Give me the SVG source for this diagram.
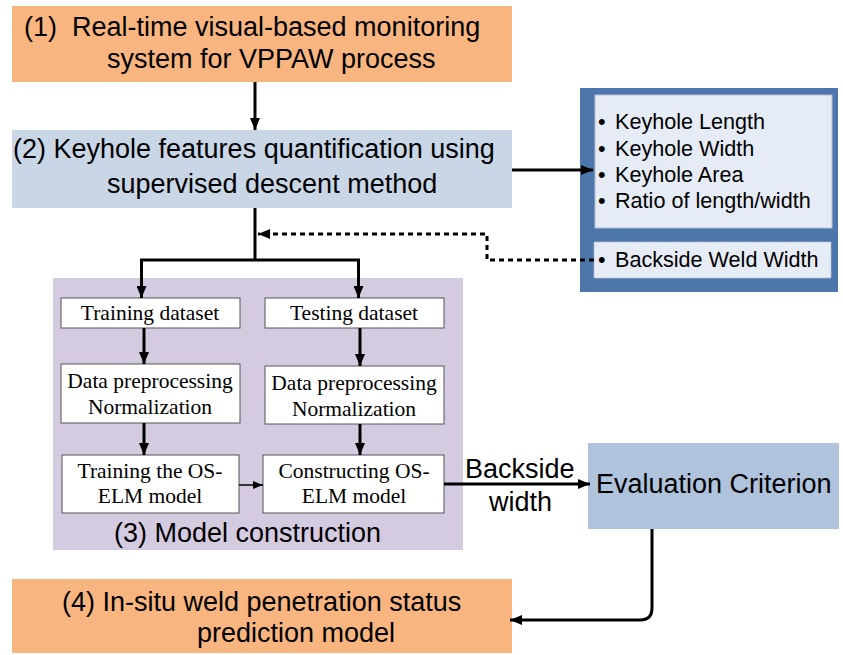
<svg xmlns="http://www.w3.org/2000/svg" width="843" height="655" viewBox="0 0 843 655">
<defs>
<style>
.sans{font-family:"Liberation Sans",Arial,sans-serif;fill:#000}
.big{font-size:27px}
.mid{font-size:21.6px}
.serif{font-family:"Liberation Serif","Times New Roman",serif;font-size:21.5px;fill:#000;text-anchor:middle}
.wbox{fill:#fff;stroke:#555;stroke-width:1}
.line{fill:none;stroke:#000;stroke-width:3}
.thin{fill:none;stroke:#000;stroke-width:1.5}
.dash{fill:none;stroke:#000;stroke-width:3;stroke-dasharray:5 4}
</style>
<marker id="ah" viewBox="0 0 12 10" refX="12" refY="5" markerWidth="12" markerHeight="10" markerUnits="userSpaceOnUse" orient="auto">
<path d="M0,0 L12,5 L0,10 z" fill="#000"/>
</marker>
<marker id="ahs" viewBox="0 0 10 8" refX="10" refY="4" markerWidth="10" markerHeight="8" markerUnits="userSpaceOnUse" orient="auto">
<path d="M0,0 L10,4 L0,8 z" fill="#000"/>
</marker>
</defs>
<rect width="843" height="655" fill="#fff"/>

<g id="panel-model">
<rect x="53" y="278" width="410" height="272" fill="#D5CBE0"/>
<text class="sans big" x="114" y="542">(3) Model construction</text>
</g>

<g id="box1">
<rect x="12" y="6" width="500" height="76" fill="#F8B57F"/>
<text class="sans big" x="24" y="36" xml:space="preserve">(1)  Real-time visual-based monitoring</text>
<text class="sans big" x="107" y="68">system for VPPAW process</text>
</g>

<g id="box2">
<rect x="12" y="130" width="500" height="78" fill="#C9D6E6"/>
<text class="sans big" x="13" y="158">(2) Keyhole features quantification using</text>
<text class="sans big" x="107" y="193">supervised descent method</text>
</g>

<g id="features">
<rect x="580" y="88" width="258" height="204" fill="#4C76AC"/>
<rect x="595" y="95" width="237" height="133" fill="#E6ECF6" stroke="#B8C0CC" stroke-width="1"/>
<text class="sans mid" y="129"><tspan x="598">•</tspan><tspan x="615">Keyhole Length</tspan></text>
<text class="sans mid" y="156"><tspan x="598">•</tspan><tspan x="615">Keyhole Width</tspan></text>
<text class="sans mid" y="182"><tspan x="598">•</tspan><tspan x="615">Keyhole Area</tspan></text>
<text class="sans mid" y="208"><tspan x="598">•</tspan><tspan x="615">Ratio of length/width</tspan></text>
<rect x="594" y="242" width="237" height="36" fill="#E6ECF6" stroke="#B8C0CC" stroke-width="1" stroke-dasharray="2 1"/>
<text class="sans mid" y="267"><tspan x="598">•</tspan><tspan x="615">Backside Weld Width</tspan></text>
</g>

<g id="train-data">
<rect class="wbox" x="61" y="298" width="179" height="30"/>
<text class="serif" x="150" y="320">Training dataset</text>
</g>
<g id="test-data">
<rect class="wbox" x="265" y="298" width="179" height="30"/>
<text class="serif" x="354" y="320">Testing dataset</text>
</g>
<g id="train-prep">
<rect class="wbox" x="61" y="364" width="179" height="59"/>
<text class="serif" x="150" y="388">Data preprocessing</text>
<text class="serif" x="150" y="414">Normalization</text>
</g>
<g id="test-prep">
<rect class="wbox" x="265" y="366" width="179" height="58"/>
<text class="serif" x="354" y="390">Data preprocessing</text>
<text class="serif" x="354" y="416">Normalization</text>
</g>
<g id="train-model">
<rect class="wbox" x="62" y="455" width="177" height="58"/>
<text class="serif" x="150" y="478">Training the OS-</text>
<text class="serif" x="150" y="503">ELM model</text>
</g>
<g id="construct-model">
<rect class="wbox" x="263" y="455" width="181" height="58"/>
<text class="serif" x="354" y="478">Constructing OS-</text>
<text class="serif" x="354" y="503">ELM model</text>
</g>

<g id="evaluation">
<rect x="588" y="443" width="251" height="86" fill="#B0C3DC"/>
<text class="sans big" x="596" y="493">Evaluation Criterion</text>
</g>

<g id="box4">
<rect x="12" y="579" width="500" height="74" fill="#F8B57F"/>
<text class="sans big" x="62" y="611">(4) In-situ weld penetration status</text>
<text class="sans big" x="197" y="642">prediction model</text>
</g>

<g id="connectors">
<path class="line" d="M255,82 V130" marker-end="url(#ah)"/>
<path class="line" d="M512,170 H593" marker-end="url(#ah)"/>
<path class="line" d="M255,208 V260"/>
<path class="line" d="M140,260 H360"/>
<path class="line" d="M141.5,260 V298" marker-end="url(#ah)"/>
<path class="line" d="M358.5,260 V298" marker-end="url(#ah)"/>
<path class="line" d="M144,328 V364" marker-end="url(#ah)"/>
<path class="line" d="M144,423 V455" marker-end="url(#ah)"/>
<path class="line" d="M360,328 V366" marker-end="url(#ah)"/>
<path class="line" d="M360,424 V455" marker-end="url(#ah)"/>
<path class="thin" d="M239,485 H263" marker-end="url(#ahs)"/>
<path class="line" d="M444,484 H590" marker-end="url(#ah)"/>
<path class="dash" d="M594,260 H487 V234 H258" marker-end="url(#ah)"/>
<path class="line" d="M652,529 V608 Q652,620 640,620 H510" marker-end="url(#ah)"/>
<text class="sans big" x="465" y="478">Backside</text>
<text class="sans big" x="489" y="511">width</text>
</g>
</svg>
